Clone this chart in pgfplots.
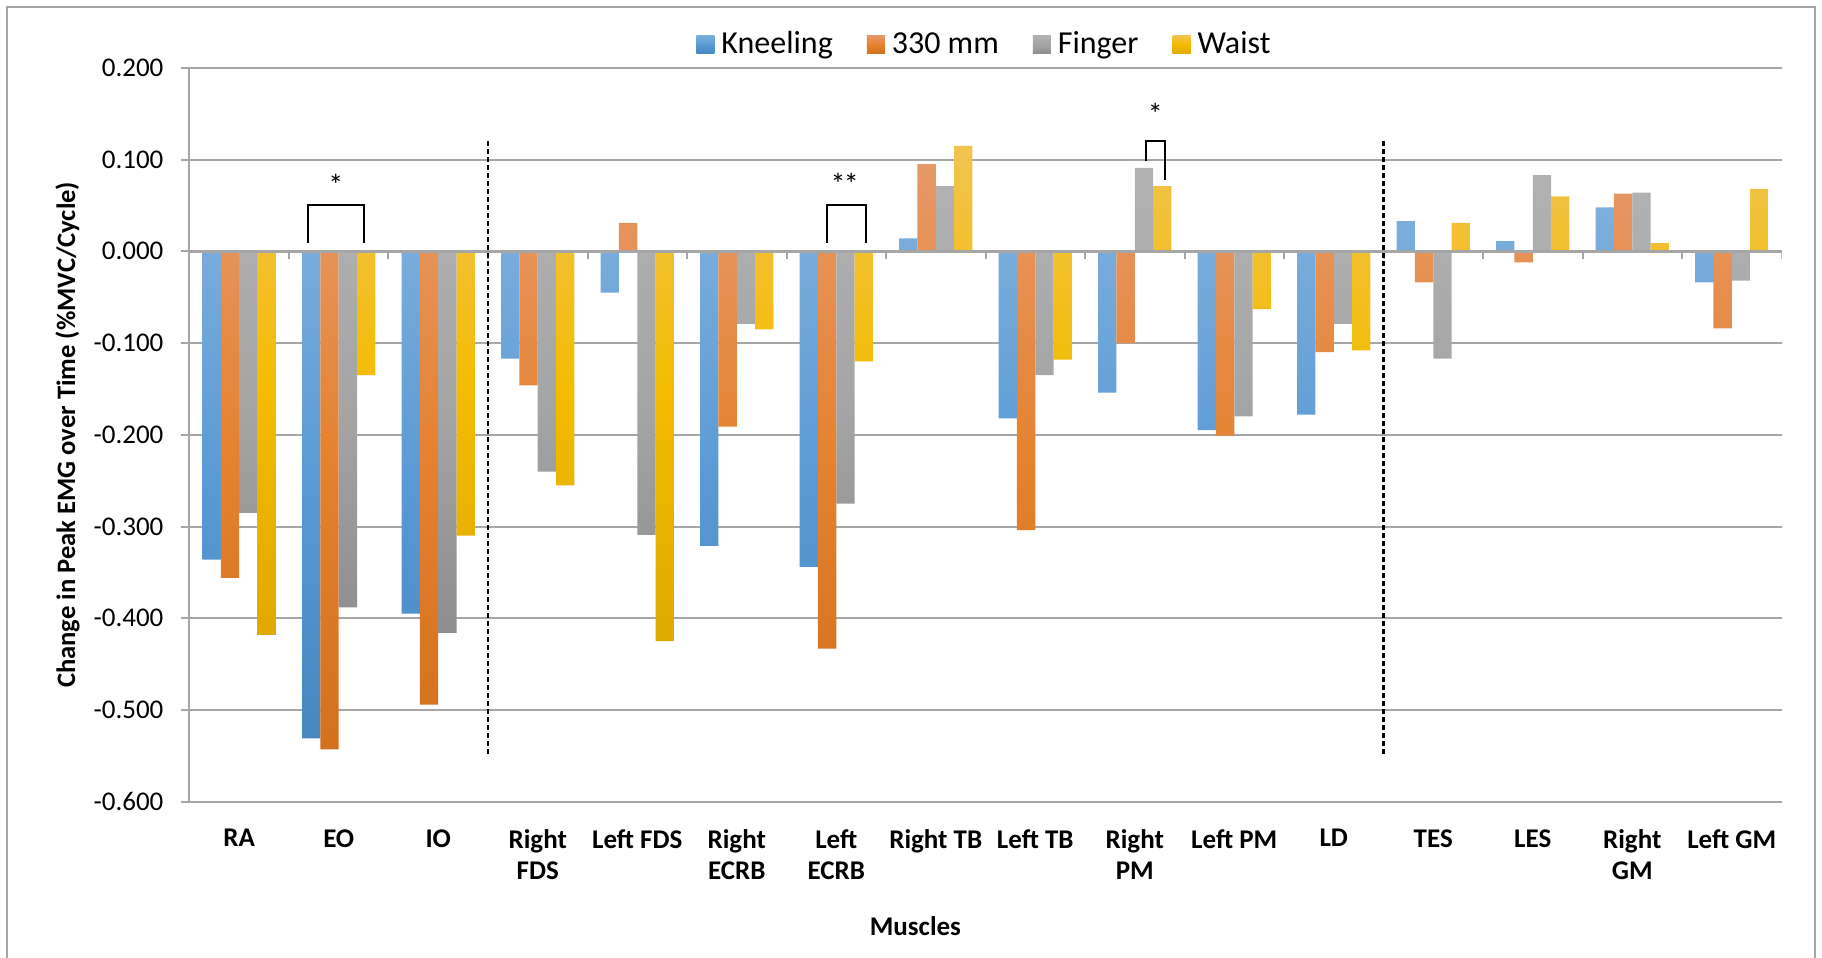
\documentclass[border=0pt]{standalone}
\usepackage{fontspec}
\setmainfont{Carlito}
\usepackage{pgfplots}
\pgfplotsset{compat=1.18}
\usepackage{pgfplotstable}

\definecolor{gridgrey}{HTML}{A6A6A6}
\definecolor{kneelTop}{HTML}{7EAFDC}
\definecolor{kneelMid}{HTML}{5B9BD5}
\definecolor{kneelBot}{HTML}{4787C0}
\definecolor{mmTop}{HTML}{E69868}
\definecolor{mmMid}{HTML}{E5822F}
\definecolor{mmBot}{HTML}{D3701E}
\definecolor{fingTop}{HTML}{B2B2B2}
\definecolor{fingMid}{HTML}{A5A5A5}
\definecolor{fingBot}{HTML}{8E8E8E}
\definecolor{waistTop}{HTML}{F2C350}
\definecolor{waistMid}{HTML}{F3BC00}
\definecolor{waistBot}{HTML}{E0A900}

% Change in peak EMG over time (%MVC/cycle), one row per muscle
\pgfplotstableread{
x  kneeling  mm330   finger  waist
0  -0.336   -0.356  -0.285  -0.418
1  -0.531   -0.543  -0.388  -0.135
2  -0.395   -0.494  -0.416  -0.310
3  -0.117   -0.146  -0.240  -0.255
4  -0.045    0.031  -0.309  -0.425
5  -0.321   -0.191  -0.079  -0.085
6  -0.344   -0.433  -0.275  -0.120
7   0.014    0.095   0.071   0.115
8  -0.182   -0.304  -0.135  -0.118
9  -0.154   -0.100   0.091   0.071
10 -0.195   -0.201  -0.180  -0.063
11 -0.178   -0.110  -0.079  -0.108
12  0.033   -0.034  -0.117   0.031
13  0.011   -0.012   0.083   0.060
14  0.048    0.063   0.064   0.009
15 -0.034   -0.084  -0.032   0.068
}\datatable

\begin{document}
\begin{tikzpicture}
\useasboundingbox (-94.75pt,-78pt) rectangle (816.25pt,400.9pt);
\begin{axis}[
  at={(0,0)}, anchor=south west,
  width=796pt, height=367pt, scale only axis,
  ybar=0pt, bar width=0.184,
  xmin=-0.5, xmax=15.5, ymin=-0.6, ymax=0.2,
  enlargelimits=false,
  axis lines*=left,
  axis line style={draw=gridgrey, line width=1pt},
  xtick={0,...,15},
  xticklabels={RA,EO,IO,{Right\\FDS},{Left FDS},{Right\\ECRB},{Left\\ECRB},{Right TB},{Left TB},{Right\\PM},{Left PM},LD,TES,LES,{Right\\GM},{Left GM}},
  xtick style={draw=none},
  xticklabel style={align=center, font=\fontsize{13.5}{15.5}\bfseries\selectfont, yshift=-6pt},
  ytick={-0.6,-0.5,-0.4,-0.3,-0.2,-0.1,0,0.1,0.2},
  yticklabels={-0.600,-0.500,-0.400,-0.300,-0.200,-0.100,0.000,0.100,0.200},
  yticklabel style={font=\fontsize{13.5}{16}\selectfont, xshift=-5.25pt},
  ytick style={draw=gridgrey, line width=1pt},
  tick align=outside, major tick length=4.25pt,
  ymajorgrids, grid style={draw=gridgrey, line width=1pt},
  xlabel={Muscles},
  xlabel style={font=\fontsize{13.5}{16}\bfseries\selectfont, at={(axis description cs:0.456,-0.169)}, anchor=center},
  ylabel={Change in Peak EMG over Time (\%MVC/Cycle)},
  ylabel style={font=\fontsize{13.3}{16}\bfseries\selectfont, at={(axis description cs:-0.0766,0.5)}, anchor=center},
  legend columns=4,
  legend style={draw=none, at={(0.5,1.032)}, anchor=center,
    font=\fontsize{16}{19}\selectfont,
    /tikz/every odd column/.append style={column sep=1.5pt},
    /tikz/every even column/.append style={column sep=15pt}},
  legend image code/.code={\path[#1, draw=none] (0pt,-4.5pt) rectangle (9pt,4.5pt);},
]
\addplot[draw=none, top color=kneelTop, bottom color=kneelBot, middle color=kneelMid] table[x=x, y=kneeling] {\datatable};
\addplot[draw=none, top color=mmTop, bottom color=mmBot, middle color=mmMid] table[x=x, y=mm330] {\datatable};
\addplot[draw=none, top color=fingTop, bottom color=fingBot, middle color=fingMid] table[x=x, y=finger] {\datatable};
\addplot[draw=none, top color=waistTop, bottom color=waistBot, middle color=waistMid] table[x=x, y=waist] {\datatable};
\legend{Kneeling,330 mm,Finger,Waist}

% category axis on the zero line with ticks between muscles
\draw[gridgrey, line width=1.2pt] (axis cs:-0.5,0) -- (axis cs:15.5,0);
\pgfplotsinvokeforeach{0,...,16}{
  \draw[gridgrey, line width=1pt] (axis cs:#1-0.5,0) -- ([yshift=-4pt]axis cs:#1-0.5,0);
}

% separators between muscle groups
\draw[black, line width=1.3pt, dash pattern=on 2.6pt off 1.4pt] (axis cs:2.5,0.12) -- (axis cs:2.5,-0.548);
\draw[black, line width=1.3pt, dash pattern=on 2.6pt off 1.4pt] (axis cs:11.5,0.12) -- (axis cs:11.5,-0.548);

% significance brackets
\draw[black, line width=1pt] (axis cs:0.686,0.009) -- (axis cs:0.686,0.050) -- (axis cs:1.256,0.050) -- (axis cs:1.256,0.009);
\node[font=\fontsize{15}{18}\selectfont] at (axis cs:0.97,0.072) {*};
\draw[black, line width=1pt] (axis cs:5.906,0.009) -- (axis cs:5.906,0.050) -- (axis cs:6.300,0.050) -- (axis cs:6.300,0.009);
\node[font=\fontsize{15}{18}\selectfont] at (axis cs:6.085,0.073) {*\kern-0.8pt*};
\draw[black, line width=1pt] (axis cs:9.108,0.098) -- (axis cs:9.108,0.120) -- (axis cs:9.305,0.120) -- (axis cs:9.305,0.078);
\node[font=\fontsize{15}{18}\selectfont] at (axis cs:9.206,0.150) {*};
\end{axis}
% chart frame
\draw[gridgrey, line width=0.9pt] (-91.25pt,-78pt) -- (-91.25pt,397.4pt) -- (812.75pt,397.4pt) -- (812.75pt,-78pt);
\end{tikzpicture}
\end{document}
